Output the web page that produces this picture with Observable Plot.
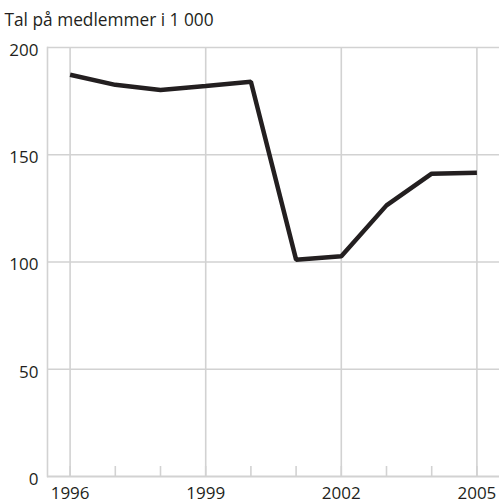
<!DOCTYPE html>
<html>
<head>
<meta charset="utf-8">
<script src="https://cdn.jsdelivr.net/npm/d3@7"></script>
<script src="https://cdn.jsdelivr.net/npm/@observablehq/plot@0.6"></script>
<style>
  html, body { margin: 0; padding: 0; background: #fff; }
  #chart svg { display: block; }
</style>
</head>
<body>
<div id="chart"></div>
<script>
const years = [1996, 1997, 1998, 1999, 2000, 2001, 2002, 2003, 2004, 2005];
const members = [187.3, 182.6, 180.2, 182.0, 184.0, 101.1, 102.7, 126.4, 141.2, 141.6];
const xTickLabels = [1996, 1999, 2002, 2005];
const yTicks = [0, 50, 100, 150, 200];
const title = "Tal på medlemmer i 1 000";

const data = years.map((y, i) => ({year: y, value: members[i]}));
const grid = "#d2d2d2";
const ink = "#231f20";

const chart = Plot.plot({
  width: 499,
  height: 504,
  marginLeft: 47,
  marginRight: 0,
  marginTop: 47,
  marginBottom: 28,
  style: {fontFamily: "'Open Sans', sans-serif", fontSize: "17px", color: ink, background: "#fff"},
  x: {domain: [1995.5, 2005.5]},
  y: {domain: [0, 200]},
  marks: [
    Plot.gridY(yTicks.filter(d => d > 0), {stroke: grid, strokeOpacity: 1, strokeWidth: 1.6}),
    Plot.gridX(xTickLabels, {stroke: grid, strokeOpacity: 1, strokeWidth: 1.6}),
    Plot.frame({anchor: "left", stroke: grid, strokeWidth: 1.6}),
    Plot.ruleY([0], {stroke: grid, strokeWidth: 2}),
    Plot.axisX({ticks: years, tickSize: -10, tickFormat: () => "", stroke: grid, strokeWidth: 1.6, label: null}),
    Plot.axisX({ticks: xTickLabels, tickSize: 0, tickPadding: 10, tickFormat: d3.format("d"), label: null, fill: ink, fontSize: 17}),
    Plot.axisY({ticks: yTicks, tickSize: 0, tickPadding: 9, dy: 3, label: null, fill: ink, fontSize: 17}),
    Plot.line(data, {x: "year", y: "value", stroke: ink, strokeWidth: 4.5, strokeLinejoin: "miter", strokeLinecap: "butt"}),
    Plot.text([title], {frameAnchor: "top-left", dx: -43, dy: -22, lineAnchor: "bottom", textAnchor: "start", fill: ink, fontSize: 17.3})
  ]
});
document.getElementById("chart").append(chart);
</script>
</body>
</html>
